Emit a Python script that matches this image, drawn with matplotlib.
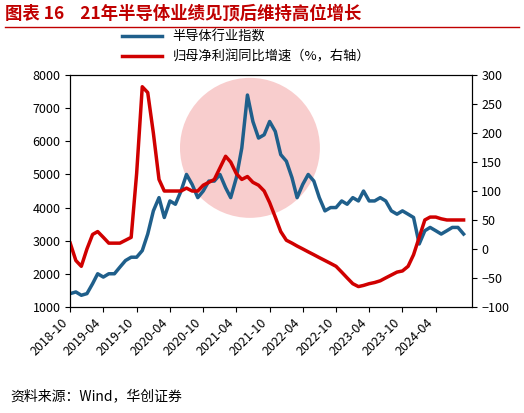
import numpy as np
import pandas as pd
import matplotlib.pyplot as plt
from matplotlib.patches import Ellipse

plt.rcParams['font.family'] = ['Noto Sans CJK SC', 'DejaVu Sans']

months = pd.date_range('2018-10-01', '2024-09-01', freq='MS')
index_vals = [1400, 1450, 1350, 1400, 1700, 2000, 1900, 2000, 2000, 2200, 2400, 2500,
              2500, 2700, 3200, 3900, 4300, 3700, 4200, 4100, 4500, 5000, 4700, 4300,
              4500, 4800, 4800, 5000, 4600, 4300, 4900, 5800, 7400, 6600, 6100, 6200,
              6600, 6300, 5600, 5400, 4900, 4300, 4700, 5000, 4800, 4300, 3900, 4000,
              4000, 4200, 4100, 4300, 4200, 4500, 4200, 4200, 4300, 4200, 3900, 3800,
              3900, 3800, 3700, 2900, 3300, 3400, 3300, 3200, 3300, 3400, 3400, 3200]
growth = [10, -20, -30, 0, 25, 30, 20, 10, 10, 10, 15, 20,
          130, 280, 270, 200, 120, 100, 100, 100, 100, 105, 100, 100,
          110, 115, 120, 140, 160, 150, 130, 120, 125, 115, 110, 100,
          80, 55, 30, 15, 10, 5, 0, -5, -10, -15, -20, -25,
          -30, -40, -50, -60, -65, -63, -60, -58, -55, -50, -45, -40,
          -38, -30, -10, 20, 50, 55, 55, 52, 50, 50, 50, 50]
tick_labels = ['2018-10', '2019-04', '2019-10', '2020-04', '2020-10', '2021-04',
               '2021-10', '2022-04', '2022-10', '2023-04', '2023-10', '2024-04']

fig = plt.figure(figsize=(5.24, 4.13), dpi=100)
ax = fig.add_axes([0.134, 0.257, 0.766, 0.561])
ax2 = ax.twinx()

fig.patches.append(Ellipse((0.477, 0.642), 0.267, 0.339, transform=fig.transFigure,
                           facecolor='#f6b8b8', alpha=0.7, edgecolor='none', zorder=0))
ax.set_zorder(1); ax.patch.set_visible(False)
ax2.set_zorder(2)

l1, = ax.plot(months, index_vals, color='#1f5f8b', lw=2.5, label='半导体行业指数')
l2, = ax2.plot(months, growth, color='#d00000', lw=2.5, label='归母净利润同比增速（%，右轴）')

ax.set_ylim(1000, 8000)
ax2.set_ylim(-100, 300)
ax.set_xlim(pd.Timestamp('2018-10-01'), pd.Timestamp('2024-10-15'))
ticks = pd.to_datetime(tick_labels)
ax.set_xticks(ticks)
ax.set_xticklabels(tick_labels, rotation=45, ha='right', fontsize=9)
ax.tick_params(labelsize=9)
ax2.tick_params(labelsize=9)

ax.legend([l1, l2], [l1.get_label(), l2.get_label()], loc='lower left',
          bbox_to_anchor=(0.1, 1.0), frameon=False, fontsize=9.5, handlelength=3)

fig.text(0.01, 0.955, '图表 16    21年半导体业绩见顶后维持高位增长', color='#c00000',
         fontsize=12.5, fontweight='bold')
fig.add_artist(plt.Line2D([0.01, 0.99], [0.935, 0.935], color='#c00000', lw=1))
fig.text(0.02, 0.03, '资料来源：Wind，华创证券', fontsize=10, style='italic')

fig.savefig('out.png', dpi=100)
